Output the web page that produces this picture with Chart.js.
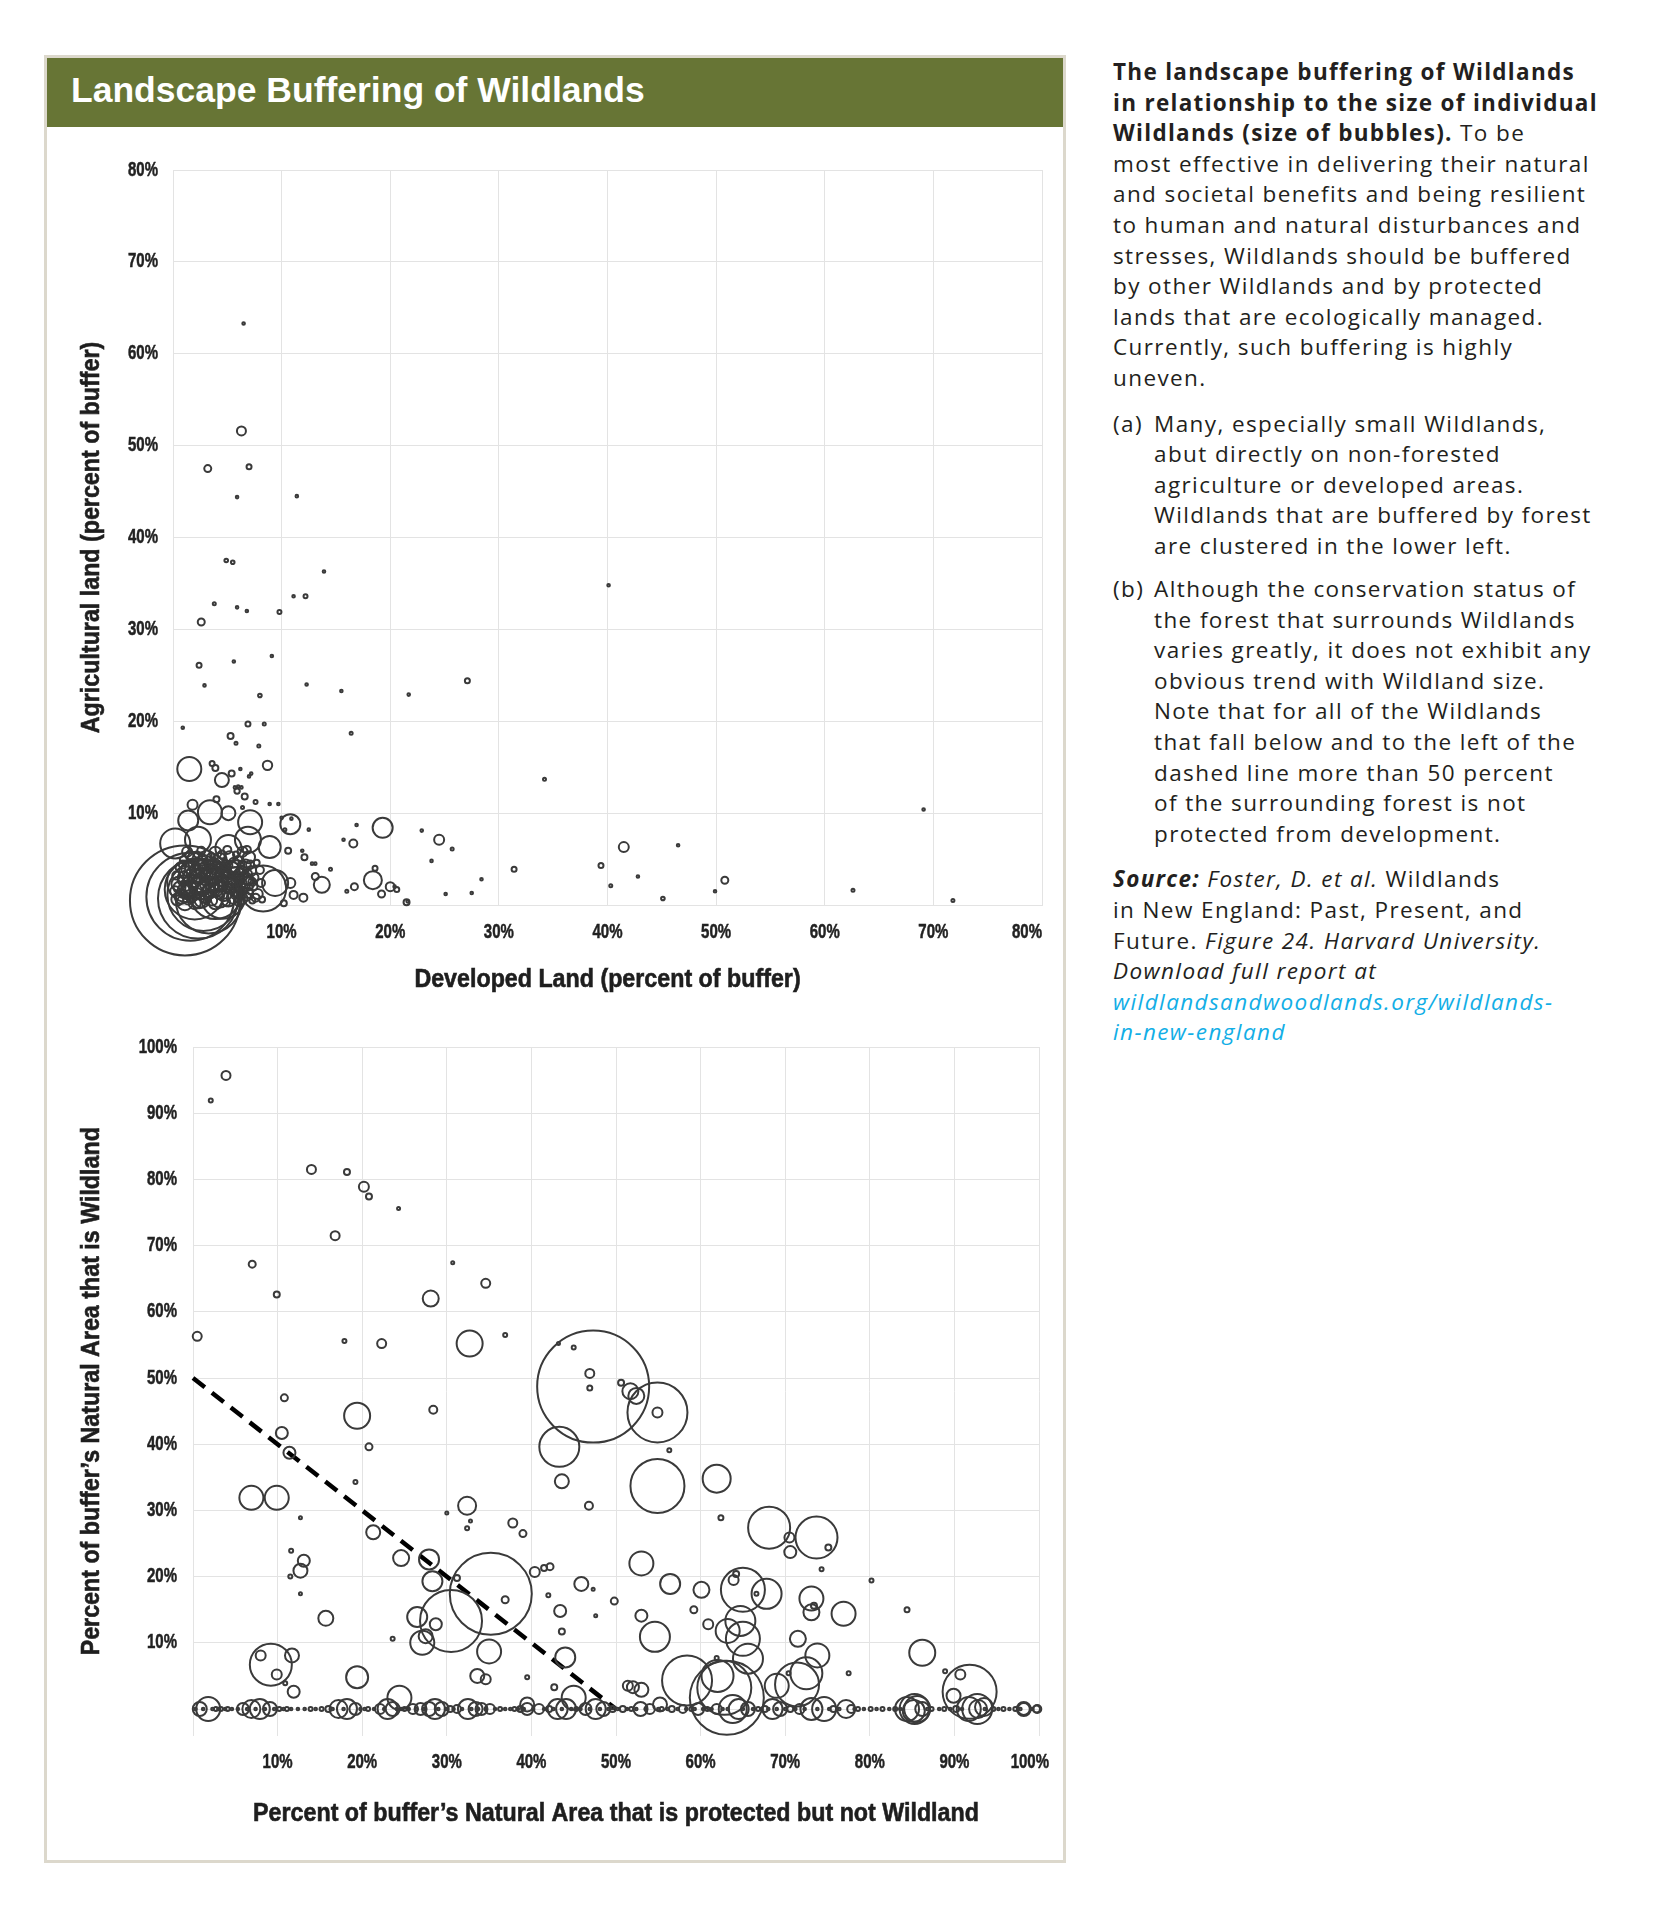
<!DOCTYPE html>
<html>
<head>
<meta charset="utf-8">
<script src="https://cdn.jsdelivr.net/npm/chart.js@4.4.1/dist/chart.umd.min.js"></script>
<style>
  html, body { margin: 0; padding: 0; background: #fff; }
  body { width: 1674px; height: 1920px; position: relative; overflow: hidden; }
  #frame { position: absolute; left: 44px; top: 55px; width: 1022px; height: 1808px; border: 3px solid #dcd8cc; box-sizing: border-box; }
  #titlebar { position: absolute; left: 47px; top: 58px; width: 1016px; height: 69px; background: #677535; }
  #title { position: absolute; left: 71px; top: 72px; font: bold 35.5px "Liberation Sans", Arial, sans-serif; line-height: 36px; color: #fff; white-space: nowrap; }
  .cv { position: absolute; }
  #side { position: absolute; left: 1113px; top: 57px; font-family: "Open Sans", "Noto Sans", sans-serif; font-size: 22.5px; line-height: 30.6px; color: #231f20; white-space: nowrap; letter-spacing: 1.4px; }
  #side p { margin: 0 0 15px 0; }
  #side .item { display: flex; margin: 0 0 15px 0; }
  #side .item.a { margin-bottom: 12.5px; }
  #side .lbl { width: 41px; flex: none; }
  #side b { font-weight: bold; letter-spacing: 1.3px; }
  #side a { color: #12aee6; text-decoration: none; font-style: italic; }
</style>
</head>
<body>
<div id="frame"></div>
<div id="titlebar"></div>
<div id="title">Landscape Buffering of Wildlands</div>

<div class="cv" style="left:47px;top:130px;width:1016px;height:880px;"><canvas id="c1" width="1016" height="880"></canvas></div>
<div class="cv" style="left:47px;top:1020px;width:1016px;height:840px;"><canvas id="c2" width="1016" height="840"></canvas></div>

<div id="side">
<p><b>The landscape buffering of Wildlands<br>in relationship to the size of individual<br>Wildlands (size of bubbles).</b> To be<br>most effective in delivering their natural<br>and societal benefits and being resilient<br>to human and natural disturbances and<br>stresses, Wildlands should be buffered<br>by other Wildlands and by protected<br>lands that are ecologically managed.<br>Currently, such buffering is highly<br>uneven.</p>
<div class="item a"><span class="lbl">(a)</span><span>Many, especially small Wildlands,<br>abut directly on non-forested<br>agriculture or developed areas.<br>Wildlands that are buffered by forest<br>are clustered in the lower left.</span></div>
<div class="item"><span class="lbl">(b)</span><span>Although the conservation status of<br>the forest that surrounds Wildlands<br>varies greatly, it does not exhibit any<br>obvious trend with Wildland size.<br>Note that for all of the Wildlands<br>that fall below and to the left of the<br>dashed line more than 50 percent<br>of the surrounding forest is not<br>protected from development.</span></div>
<p><b><i>Source:</i></b> <i>Foster, D. et al.</i> Wildlands<br>in New England: Past, Present, and<br>Future. <i>Figure 24. Harvard University.<br>Download full report at</i><br><a>wildlandsandwoodlands.org/wildlands-<br>in-new-england</a></p>
</div>

<script>
// ---------- DATA ----------
// Top chart: [developed %, agricultural %, bubble size (px radius)]
const topOutliers = [
  [6.5,63.3,1.3],[6.3,51.6,4.5],[3.2,47.5,3.5],[7.0,47.7,2.5],[5.9,44.4,1.3],[11.4,44.5,1.3],
  [4.9,37.5,1.8],[5.5,37.3,1.8],[13.9,36.3,1.3],[3.8,32.8,1.5],[5.9,32.4,1.3],[6.8,32.0,1.3],
  [9.8,31.9,2],[11.1,33.6,1.3],[12.2,33.6,2],[2.6,30.8,3.5],[9.1,27.1,1.3],[2.4,26.1,2.5],
  [5.6,26.5,1.3],[2.9,23.9,1.3],[8.0,22.8,1.8],[12.3,24.0,1.3],[15.5,23.3,1.3],[21.7,22.9,1.3],
  [27.1,24.4,2.5],[40.1,34.8,1.3],[34.2,13.7,1.5],[0.9,19.3,1.3],[6.9,19.7,2.5],[8.4,19.7,1.5],
  [5.3,18.4,3],[5.8,17.6,1.5],[7.9,17.3,1.5],[16.4,18.7,1.5],[8.7,15.2,4.7],[6.2,14.8,1.3],[7.2,14.3,1.3]
];
const topMid = [
  [1.5,14.8,12],[4.5,13.6,7],[3.9,14.9,3],[3.6,15.4,2.5],[5.4,14.3,3],[5.9,12.4,2.7],[5.7,12.8,1.3],
  [6.0,12.9,1.3],[6.3,12.8,1.3],[7.0,14.0,1.3],[1.8,10.9,5],[3.4,10.1,12],[5.1,10.0,7],[6.4,10.6,1.5],
  [8.9,11.0,1.3],[9.7,11.0,1.3],[1.4,9.2,10],[7.1,9.0,12],[10.8,8.8,10],[10.9,9.4,1.3],[12.5,8.2,1.3],
  [16.9,8.7,1.3],[19.3,8.4,10],[15.7,7.1,1.3],[16.6,6.7,4],[0.2,6.7,15],[2.3,7.1,13],[5.1,6.2,13],
  [8.9,6.3,11],[6.9,7.1,13],[11.9,5.9,1.3],[12.8,4.5,1.3],[13.1,4.5,1.3],[14.5,3.9,1.5],[13.1,3.1,3.5],
  [13.7,2.2,8],[12.0,0.8,4],[11.1,1.1,4],[10.8,2.4,5],[9.4,2.4,13],[8.3,1.8,23],[10.2,0.2,3],
  [16.0,1.5,1.5],[16.7,2.0,3.5],[18.4,2.7,9],[18.6,4.0,2.5],[19.2,1.2,3.5],[20.0,2.0,4.5],[20.6,1.7,2.5],
  [21.5,0.3,3],[4.0,11.5,3],[6.6,11.8,3],[7.6,11.2,2],[10.3,8.2,1.5],[10.0,9.5,1.3],[10.6,5.9,3],[12.1,5.2,3]
];
const topFar = [
  [24.5,7.1,5],[25.7,6.1,1.5],[22.9,8.1,1.3],[41.5,6.3,5],[46.5,6.5,1.3],[69.1,10.4,1.3],[39.4,4.3,2.5],
  [40.3,2.1,1.5],[42.8,3.1,1.3],[45.1,0.7,1.8],[50.8,2.7,3.5],[49.9,1.5,1.3],[62.6,1.6,1.5],[71.8,0.5,1.5],
  [31.4,3.9,2.5],[28.4,2.8,1.3],[27.5,1.3,1.3],[23.8,4.8,1.3],[25.1,1.2,1.3],[21.6,0.4,1.3],[20.4,2.0,1.3]
];
const topCluster = [
  [0.4,0.6,6],[1.1,0.3,8],[1.7,0.8,5],[2.4,0.4,7],[3.0,0.9,6],[3.6,0.5,5],[4.3,0.7,9],[4.9,0.3,4],[5.5,0.8,6],[6.1,0.4,5],[6.8,0.9,4],[7.3,0.5,3],
  [0.2,1.5,5],[0.9,1.2,4],[1.5,1.7,8],[2.2,1.3,5],[2.8,1.8,7],[3.4,1.2,4],[4.0,1.6,6],[4.7,1.3,8],[5.3,1.8,5],[5.9,1.4,6],[6.5,1.9,4],[7.1,1.5,3],
  [0.5,2.3,7],[1.2,2.1,5],[1.9,2.6,6],[2.6,2.2,9],[3.3,2.7,4],[3.9,2.2,7],[4.5,2.6,5],[5.2,2.3,6],[5.8,2.8,8],[6.4,2.4,4],[7.0,2.7,5],
  [0.3,3.2,4],[1.0,3.0,6],[1.7,3.5,5],[2.3,3.1,7],[3.0,3.4,5],[3.7,3.0,8],[4.3,3.5,4],[5.0,3.1,6],[5.7,3.6,5],[6.2,3.2,7],[6.9,3.4,4],
  [0.7,4.1,5],[1.4,3.9,7],[2.1,4.3,4],[2.9,4.0,6],[3.6,4.4,5],[4.4,4.0,6],[5.1,4.3,4],[5.9,4.1,7],[6.7,4.4,5],
  [1.0,4.9,4],[1.9,5.1,6],[2.7,4.8,5],[3.5,5.2,4],[4.3,4.9,7],[5.2,5.3,5],[6.0,4.9,4],[7.0,5.2,6],
  [1.3,5.8,5],[2.6,5.9,4],[3.9,5.7,6],[5.0,6.0,4],[6.4,5.8,5],[7.5,3.0,4],[7.8,1.2,5],[8.2,0.6,3],[8.0,3.8,4],
  [0.8,0.9,7],[1.4,0.6,5],[2.0,0.2,6],[2.7,0.6,8],[3.3,1.5,6],[3.9,0.3,7],[4.6,2.0,5],[5.1,0.6,7],[5.7,1.1,4],[6.3,0.7,6],[6.9,1.3,5],[7.6,0.8,4],
  [0.6,1.9,6],[1.3,1.4,7],[2.0,2.2,4],[2.6,1.6,6],[3.2,2.3,8],[3.8,1.8,5],[4.4,2.3,7],[5.0,1.9,4],[5.6,2.4,6],[6.2,2.0,5],[6.8,2.3,7],[7.4,2.0,4],
  [0.9,2.7,5],[1.6,3.1,7],[2.4,2.8,5],[3.1,3.1,6],[3.8,2.6,4],[4.6,3.2,7],[5.4,2.8,5],[6.0,3.0,4],[6.7,2.9,6],
  [1.1,3.6,6],[2.0,3.8,5],[2.8,3.6,7],[3.4,3.9,4],[4.1,3.8,6],[4.9,3.7,5],[5.5,4.0,6],[6.4,3.8,4],[7.2,3.7,5],
  [1.2,1.0,3],[1.9,1.5,3],[2.5,1.0,4],[3.1,0.4,3],[3.6,1.9,3],[4.2,1.1,4],[4.8,2.6,3],[5.4,1.5,3],[6.0,2.6,4],[6.6,1.6,3],
  [1.5,2.4,3],[2.2,2.9,4],[2.9,2.5,3],[3.5,3.3,4],[4.1,2.8,3],[4.8,3.5,4],[5.4,3.3,3],[6.1,3.6,4],[6.6,3.3,3],[7.3,2.5,4],
  [0.9,4.4,4],[1.7,4.5,3],[2.5,4.3,5],[3.2,4.6,3],[4.0,4.5,4],[4.8,4.6,3],[5.6,4.6,5],[6.3,4.5,3],[7.1,4.4,4],
  [1.5,5.4,4],[2.2,5.5,3],[3.1,5.4,5],[4.5,5.5,4],[5.8,5.5,3],[6.8,6.0,4],[7.7,4.6,3],[8.1,2.4,4]
];
const topLarge = [
  [1.1,0.5,55],[1.6,0.9,44],[2.3,0.7,40],[2.8,1.1,36],[3.3,0.5,33],[2.0,1.7,30],[3.9,1.3,26],[4.6,0.9,22],[1.3,2.5,20],[3.0,2.6,18]
];

// Bottom chart: [protected-not-Wildland %, Wildland %, bubble size (px radius)]
const botUpper = [
  [3.9,95.7,4.5],[2.1,91.9,2],[14.0,81.5,4.5],[18.2,81.1,3],[20.2,78.9,5],[20.8,77.4,3],[24.3,75.6,1.5],
  [16.8,71.5,4.5],[7.0,67.2,3.5],[30.7,67.4,1.5],[34.6,64.3,4.5],[9.9,62.6,3],[28.1,62.0,8],[0.5,56.3,4.5],
  [36.9,56.5,2],[17.9,55.6,2],[22.3,55.2,4.5],[32.7,55.2,13],[47.3,48.7,56],[43.2,55.2,1.5],[45.0,54.6,2],
  [46.9,50.7,4.5],[46.9,48.5,2.5],[50.6,49.3,3],[51.7,48.0,8],[52.4,47.3,8],[54.9,44.8,30],[54.9,44.8,5],
  [56.3,39.1,2],[54.9,33.7,27],[43.3,39.6,20],[43.6,34.4,7],[46.8,30.7,4],[10.8,47.0,3.5],[19.4,44.3,13],
  [28.4,45.2,4],[10.5,41.7,6],[11.4,38.7,6],[20.8,39.6,3.5],[6.9,31.9,12],[9.9,31.9,12],[12.7,28.9,1.5],
  [19.2,34.3,2],[21.3,26.7,7],[32.4,30.7,9],[32.8,28.4,1.5],[32.4,27.3,2],[30.0,29.6,1.5],[37.8,28.1,4.5],[39.0,26.5,3.5]
];
const botMiddle = [
  [61.9,34.8,14],[62.4,28.9,2.5],[68.1,27.4,21],[70.5,25.9,5],[70.6,23.7,6],[73.7,25.9,21],[75.1,24.4,3],
  [74.3,21.1,2],[80.2,19.4,2],[24.6,22.8,8],[27.9,22.6,10],[11.6,23.9,2],[13.1,22.4,6],[12.7,20.9,7],
  [12.7,17.4,1.5],[15.7,13.7,7.5],[11.5,20.0,2],[35.2,17.4,41],[30.5,13.3,31],[31.2,19.8,3],[28.3,19.3,10],
  [26.5,13.9,10],[27.1,10.0,12],[27.5,11.0,7],[23.6,10.6,2],[28.7,12.8,6],[35.0,8.7,12],[33.6,5.0,7],
  [34.6,4.5,5],[36.9,16.5,3.5],[40.4,20.7,5],[41.5,21.3,3],[42.2,21.5,3.5],[42.0,17.2,2],[43.4,14.8,6],
  [43.6,11.7,3],[44.0,7.8,10],[45.9,18.9,7],[47.3,18.1,1.5],[47.6,14.1,1.5],[49.8,16.3,3.5],
  [53.0,22.0,12],[56.4,18.9,10],[60.1,18.0,8],[65.0,18.0,22],[64.2,20.4,3],[63.9,19.5,5],[67.8,17.4,15],
  [66.6,17.4,2],[73.1,16.7,12],[73.4,15.6,3],[76.9,14.4,12],[73.1,14.6,8],[64.7,13.3,15],[63.2,11.8,12],
  [65.0,10.6,17],[65.6,7.6,15],[71.5,10.6,8],[73.8,8.1,12],[72.5,5.4,16],[54.6,10.9,15],[53.0,14.1,6],
  [59.2,15.0,3.5],[60.9,12.8,5]
];
const botLow = [
  [58.4,4.3,25],[63.1,1.7,37],[62.8,3.2,27],[62.0,5.0,16],[61.9,7.7,2],[69.0,3.5,12],[71.4,3.7,22],
  [70.4,5.4,2],[77.5,5.4,2],[84.4,15.0,2.5],[86.2,8.5,13],[90.7,5.2,5],[88.9,5.7,2],[91.8,2.6,27],
  [89.9,2.0,7],[85.3,0.0,15],[85.2,-0.3,11],[92.7,0.0,15],[93.5,0.3,9],[98.2,0.0,6],[99.7,0.0,3.5],
  [9.2,6.7,21],[8.0,8.1,5],[9.9,5.2,5],[11.7,8.1,7],[19.4,4.8,11],[24.4,1.7,12],[11.9,2.6,6],[10.9,3.9,2],
  [39.5,4.8,2],[39.5,0.7,7],[45.0,1.7,12],[42.7,3.3,3],[51.4,3.5,5],[52.0,3.3,6],[53.0,2.9,7],[55.2,0.7,7],[49.6,0.2,1.5]
];
// Wildlands with no Wildland in buffer (on the 0% line): [protected %, size]
const botZeroCircles = [
  [1.8,12],[0.8,7],[2.7,2],[3.3,2],[4.1,2],[5.9,6],[6.9,9],[7.9,10],[9.1,7],[10.2,2],[11.1,2],[13.9,2],
  [15.2,2],[16.0,3],[17.2,9],[18.2,10],[19.2,6],[20.7,2],[22.1,5],[23.0,10],[23.6,7],[25.0,2],[26.0,5],
  [26.9,6],[27.9,7],[28.6,10],[29.4,7],[30.4,3],[31.2,4],[32.5,10],[33.4,7],[34.1,6],[35.1,5],[36.3,2],
  [38.0,2],[38.7,3],[39.5,6],[40.9,5],[42.1,3],[43.1,10],[44.1,10],[45.3,2],[46.4,6],[47.6,10],[48.5,7],
  [49.6,3],[50.8,3],[51.8,2],[52.9,7],[54.0,5],[55.4,2],[56.6,3],[57.9,4],[58.9,2],[59.7,6],[60.8,2],
  [61.9,5],[63.8,14],[64.5,10],[65.6,7],[66.8,2],[67.6,3],[68.5,10],[69.4,7],[70.6,3],[71.7,5],[73.1,11],
  [74.6,12],[75.7,3],[77.2,9],[77.8,4],[78.6,2],[80.1,2],[81.5,2],[83.0,2],[84.4,12],[85.6,13],[86.2,7],
  [87.3,2],[88.8,2],[90.2,3],[91.7,12],[92.8,9],[94.6,2],[95.8,2],[97.2,2],[98.2,7],[99.8,4]
];
const botZeroDots = [
  0.3,1.2,2.3,3.0,3.8,4.6,5.3,6.4,7.4,8.5,9.6,10.7,11.6,12.4,13.2,14.5,16.5,17.8,19.8,20.3,21.4,22.6,
  24.1,24.6,25.5,26.4,27.3,29.0,29.9,30.8,31.8,32.9,33.7,34.6,35.7,36.9,37.5,38.4,39.1,40.2,41.5,42.6,
  43.6,44.7,45.8,46.9,48.1,49.1,50.2,51.3,52.4,53.5,55.0,56.1,57.3,58.3,59.3,60.3,61.3,62.6,63.2,65.0,
  66.2,67.2,68.0,69.0,70.0,71.2,72.3,73.8,75.2,76.4,78.2,79.3,80.8,82.3,83.6,86.8,88.2,89.5,90.9,93.6,
  95.2,96.5,97.8,99.2
];
const dashedLine = [[0,50],[50,0]];

const topTitles = { x: 'Developed Land (percent of buffer)', y: 'Agricultural land (percent of buffer)' };
const botTitles = { x: 'Percent of buffer\u2019s Natural Area that is protected but not Wildland', y: 'Percent of buffer\u2019s Natural Area that is Wildland' };

// ---------- CHARTS ----------
const GRID = '#e3e3e3';
const INK = '#3a3a3a';
const FACE = '"Liberation Sans", Arial, sans-serif';

function toPts(arr) { return arr.map(a => ({x: a[0], y: a[1], r: a[2]})); }
function bubbleSet(arr) {
  return { type: 'bubble', data: toPts(arr), borderColor: INK, borderWidth: 2,
           backgroundColor: 'rgba(0,0,0,0)', clip: false, hoverRadius: 0 };
}
const keepNonNeg = s => { s.ticks = s.ticks.filter(t => t.value >= 0); };

function axis(min, max, fitFn) {
  return {
    type: 'linear', min: min, max: max,
    ticks: { stepSize: 10, display: false },
    grid: { color: GRID, lineWidth: 1, drawTicks: false },
    border: { color: GRID },
    title: { display: false },
    afterFit: fitFn,
    afterBuildTicks: keepNonNeg
  };
}

// Condensed bold labels drawn from the chart's own scales (ticks + axis titles)
const SQ_TICK = 0.75, SQ_TITLE = 0.93;
function squeezeText(ctx, text, x, y, sx, rot) {
  ctx.save();
  ctx.translate(x, y);
  if (rot) ctx.rotate(rot);
  ctx.scale(sx, 1);
  ctx.fillText(text, 0, 0);
  ctx.strokeText(text, 0, 0);
  ctx.restore();
}
const condensedLabels = {
  id: 'condensedLabels',
  afterDraw(chart, args, o) {
    const ctx = chart.ctx, ca = chart.chartArea;
    const xs = chart.scales.x, ys = chart.scales.y;
    const zeroY = ys.getPixelForValue(0);
    ctx.save();
    ctx.fillStyle = '#222';
    ctx.strokeStyle = '#222';
    ctx.lineWidth = 0.5;
    ctx.font = 'bold 20px ' + FACE;
    ctx.textBaseline = 'middle';
    ctx.textAlign = 'center';
    xs.ticks.filter(t => t.value > 0).forEach(t => {
      const label = t.value + '%';
      const half = ctx.measureText(label).width * SQ_TICK / 2;
      const px = Math.min(xs.getPixelForValue(t.value), ca.right + o.lastOverhang - half);
      squeezeText(ctx, label, px, zeroY + o.xTickGap, SQ_TICK);
    });
    ctx.textAlign = 'right';
    ys.ticks.filter(t => t.value > 0).forEach(t => {
      squeezeText(ctx, t.value + '%', ca.left - o.yTickGap, ys.getPixelForValue(t.value), SQ_TICK);
    });
    ctx.fillStyle = '#1e1e1e';
    ctx.strokeStyle = '#1e1e1e';
    ctx.lineWidth = 0.6;
    ctx.font = 'bold 25px ' + FACE;
    ctx.textAlign = 'center';
    squeezeText(ctx, o.titles.x, (ca.left + ca.right) / 2, zeroY + o.xTitleGap, SQ_TITLE);
    squeezeText(ctx, o.titles.y, o.yTitleX, (ca.top + ca.bottom) / 2, SQ_TITLE, -Math.PI / 2);
    ctx.restore();
  }
};

new Chart(document.getElementById('c1'), {
  type: 'bubble',
  data: { datasets: [bubbleSet(topLarge), bubbleSet(topCluster), bubbleSet(topMid), bubbleSet(topOutliers), bubbleSet(topFar)] },
  plugins: [condensedLabels],
  options: {
    responsive: false, animation: false, devicePixelRatio: 1,
    layout: { autoPadding: false, padding: { top: 40, right: 21, left: 0, bottom: 0 } },
    plugins: { legend: { display: false }, tooltip: { enabled: false },
      condensedLabels: { titles: topTitles, xTickGap: 27, yTickGap: 15, xTitleGap: 75, yTitleX: 45, lastOverhang: 0 } },
    events: [],
    scales: {
      x: axis(0, 80, s => { s.height = 105; }),
      y: axis(0, 80, s => { s.width = 126; })
    }
  }
});

const zeroCircleSet = botZeroCircles.map(a => [a[0], 0, a[1]]);
const zeroDotSet = botZeroDots.map(v => [v, 0, 1.3]);

const botX = axis(0, 100, s => { s.height = 124.5; });
botX.border = { display: false };

new Chart(document.getElementById('c2'), {
  type: 'bubble',
  data: { datasets: [
    bubbleSet(botUpper), bubbleSet(botMiddle), bubbleSet(botLow), bubbleSet(zeroCircleSet), bubbleSet(zeroDotSet),
    { type: 'line', data: dashedLine.map(p => ({x: p[0], y: p[1]})), borderColor: '#000', borderWidth: 4.5,
      borderDash: [15, 9], pointRadius: 0, fill: false, clip: false }
  ] },
  plugins: [condensedLabels],
  options: {
    responsive: false, animation: false, devicePixelRatio: 1,
    layout: { autoPadding: false, padding: { top: 27, right: 24, left: 0, bottom: 0 } },
    plugins: { legend: { display: false }, tooltip: { enabled: false },
      condensedLabels: { titles: botTitles, xTickGap: 53, yTickGap: 16, xTitleGap: 105, yTitleX: 45, lastOverhang: 10 } },
    events: [],
    scales: {
      x: botX,
      y: axis(-4, 100, s => { s.width = 146; })
    }
  }
});
</script>
</body>
</html>
